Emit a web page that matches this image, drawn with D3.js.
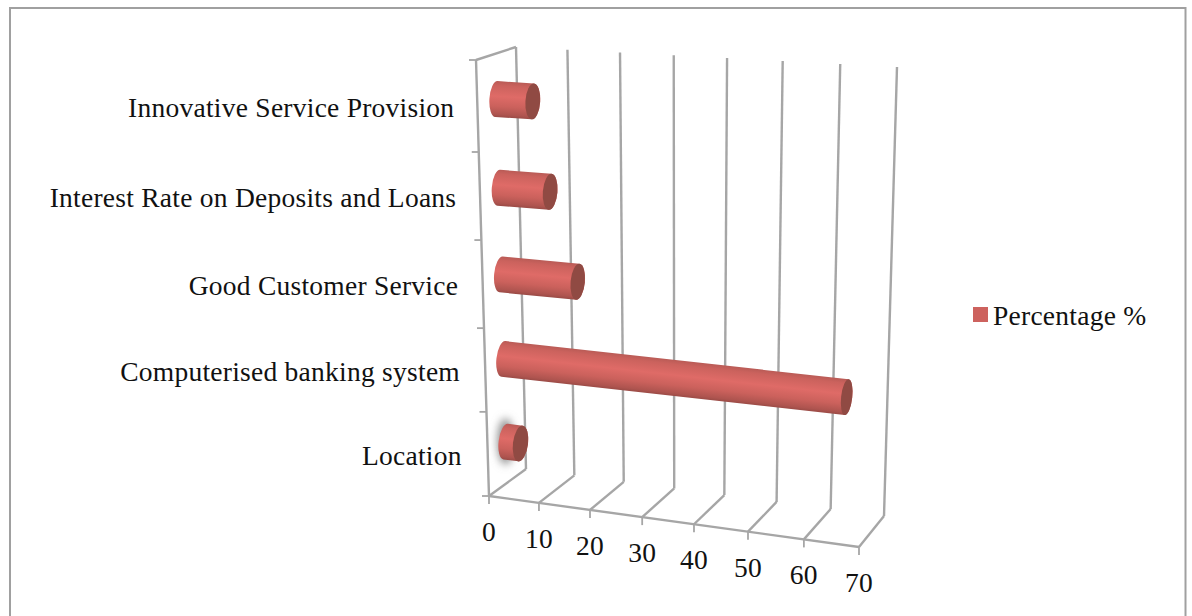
<!DOCTYPE html>
<html>
<head>
<meta charset="utf-8">
<script src="https://cdn.jsdelivr.net/npm/d3@7"></script>
<style>
  html, body { margin: 0; padding: 0; background: #fff; }
  svg { display: block; }
  text { font-family: "Liberation Serif", serif; fill: #111; letter-spacing: .25px; }
</style>
</head>
<body>
<svg id="chart" width="1192" height="616"></svg>
<script>
// Chart values, top to bottom on the category axis
const categories = ["Innovative Service Provision", "Interest Rate on Deposits and Loans",
  "Good Customer Service", "Computerised banking system", "Location"];
const percentages = [7, 10, 15, 65, 3];
const seriesName = "Percentage %";
const valueTicks = [0, 10, 20, 30, 40, 50, 60, 70];

const svg = d3.select("#chart");
const fontSize = 27.5;

// Corners of the 3D plot box as seen on the page
const box = {
  front: { tl: [476, 60], tr: [869, 84], bl: [489, 496], br: [859, 547] },
  back:  { tl: [516, 47], tr: [897, 67], bl: [526, 469], br: [884, 516] }
};

// Foreshortening along each axis, expressed as fractions of the box edge
const u = d3.scaleLinear().domain(valueTicks)
  .range([0, .135, .273, .414, .554, .70, .851, 1]);
const w = d3.scaleLinear().domain([0, 1, 2, 3, 4, 5])
  .range([0, .211, .413, .615, .807, 1]);

const lerp = (a, b, t) => [a[0] + (b[0] - a[0]) * t, a[1] + (b[1] - a[1]) * t];

// Maps (value, category position, depth) to page coordinates
function project(v, c, d) {
  const corner = k => lerp(box.front[k], box.back[k], d);
  const top = lerp(corner("tl"), corner("tr"), u(v));
  const bottom = lerp(corner("bl"), corner("br"), u(v));
  return lerp(top, bottom, w(c));
}

const axisColor = "#a6a6a6";
const axisLine = (a, b, sw) => svg.append("line")
  .attr("x1", a[0]).attr("y1", a[1]).attr("x2", b[0]).attr("y2", b[1])
  .attr("stroke", axisColor).attr("stroke-width", sw);

// Chart area frame, running off the bottom of the page
svg.append("rect").attr("x", 10).attr("y", 8).attr("width", 1175.5).attr("height", 640)
  .attr("fill", "#fff").attr("stroke", "#a0a0a0").attr("stroke-width", 2);

// Gridlines on the back wall and floor
valueTicks.forEach(v => {
  axisLine(project(v, 0, 1), project(v, 5, 1), 2.4);
  axisLine(project(v, 5, 1), project(v, 5, 0), 2.4);
});

// Left edge and front edge of the box
axisLine(project(0, 0, 0), project(0, 5, 0), 2.4);
axisLine(project(0, 0, 0), project(0, 0, 1), 2.4);
axisLine(project(0, 5, 0), project(70, 5, 0), 2.4);

// Tick marks on both axes
d3.range(0, 6).forEach(c => {
  const p = project(0, c, 0);
  axisLine([p[0] - 7, p[1]], p, 1.8);
});
valueTicks.forEach(v => {
  const p = project(v, 5, 0);
  axisLine(p, [p[0], p[1] + 8], 1.8);
});

// Value axis labels
svg.selectAll(".vlabel").data(valueTicks).join("text")
  .attr("class", "vlabel")
  .attr("x", v => project(v, 5, 0)[0])
  .attr("y", v => project(v, 5, 0)[1] + 45)
  .attr("text-anchor", "middle")
  .attr("font-size", fontSize)
  .text(v => v);

// Category labels, right-aligned against the axis
svg.selectAll(".clabel").data(categories).join("text")
  .attr("class", "clabel")
  .attr("x", (d, i) => project(0, i + .5, 0)[0] - 23 - i * .75)
  .attr("y", (d, i) => project(0, i + .5, 0)[1] + 11)
  .attr("text-anchor", "end")
  .attr("font-size", fontSize)
  .text(d => d);

// Cylinder bars
const defs = svg.append("defs");
defs.append("filter").attr("id", "halo")
  .attr("x", "-100%").attr("y", "-50%").attr("width", "300%").attr("height", "200%")
  .append("feGaussianBlur").attr("stdDeviation", 4);

const barDepth = .48, radius = 18, startRx = 7;
// End caps narrow as the bar reaches further along the value axis
const capRx = d3.scaleLinear().domain([0, 70]).range([7.6, 5.4]);

percentages.forEach((value, i) => {
  const a = project(0, i + .5, barDepth);
  const b = project(value, i + .5, barDepth);
  const dx = b[0] - a[0], dy = b[1] - a[1], len = Math.hypot(dx, dy);
  const angle = Math.atan2(dy, dx) * 180 / Math.PI;
  const nx = -dy / len, ny = dx / len;
  const rx = capRx(value);

  // Shading runs across the cylinder, perpendicular to its axis
  const grad = defs.append("linearGradient").attr("id", "bar" + i)
    .attr("gradientUnits", "userSpaceOnUse")
    .attr("x1", a[0] - nx * radius).attr("y1", a[1] - ny * radius)
    .attr("x2", a[0] + nx * radius).attr("y2", a[1] + ny * radius);
  [[0, "#b95b56"], [.12, "#cb625d"], [.42, "#df6b67"], [.7, "#cb615c"], [.92, "#ae544f"], [1, "#9a4b46"]]
    .forEach(s => grad.append("stop").attr("offset", s[0]).attr("stop-color", s[1]));

  const g = svg.append("g");
  const at = (p, off) => [p[0] + nx * off, p[1] + ny * off];
  const t0 = at(a, -radius), t1 = at(b, -radius), b1 = at(b, radius), b0 = at(a, radius);

  // The Location bar carries a soft grey glow behind it
  if (categories[i] === "Location") {
    g.append("ellipse")
      .attr("cx", a[0]).attr("cy", a[1])
      .attr("rx", startRx + 1).attr("ry", radius + 5)
      .attr("fill", "#8a8a8a")
      .attr("filter", "url(#halo)");
  }

  g.append("path")
    .attr("d", `M${t0}L${t1}A${rx},${radius} ${angle} 0 1 ${b1}L${b0}A${startRx},${radius} ${angle} 0 1 ${t0}Z`)
    .attr("fill", `url(#bar${i})`);
  g.append("ellipse")
    .attr("transform", `translate(${b}) rotate(${angle})`)
    .attr("rx", rx).attr("ry", radius)
    .attr("fill", "#904a43");
});

// Legend
const legend = svg.append("g").attr("transform", "translate(973,307)");
legend.append("rect").attr("width", 15).attr("height", 15).attr("fill", "#cd625e");
legend.append("text").attr("x", 20).attr("y", 18).attr("font-size", fontSize).text(seriesName);
</script>
</body>
</html>
